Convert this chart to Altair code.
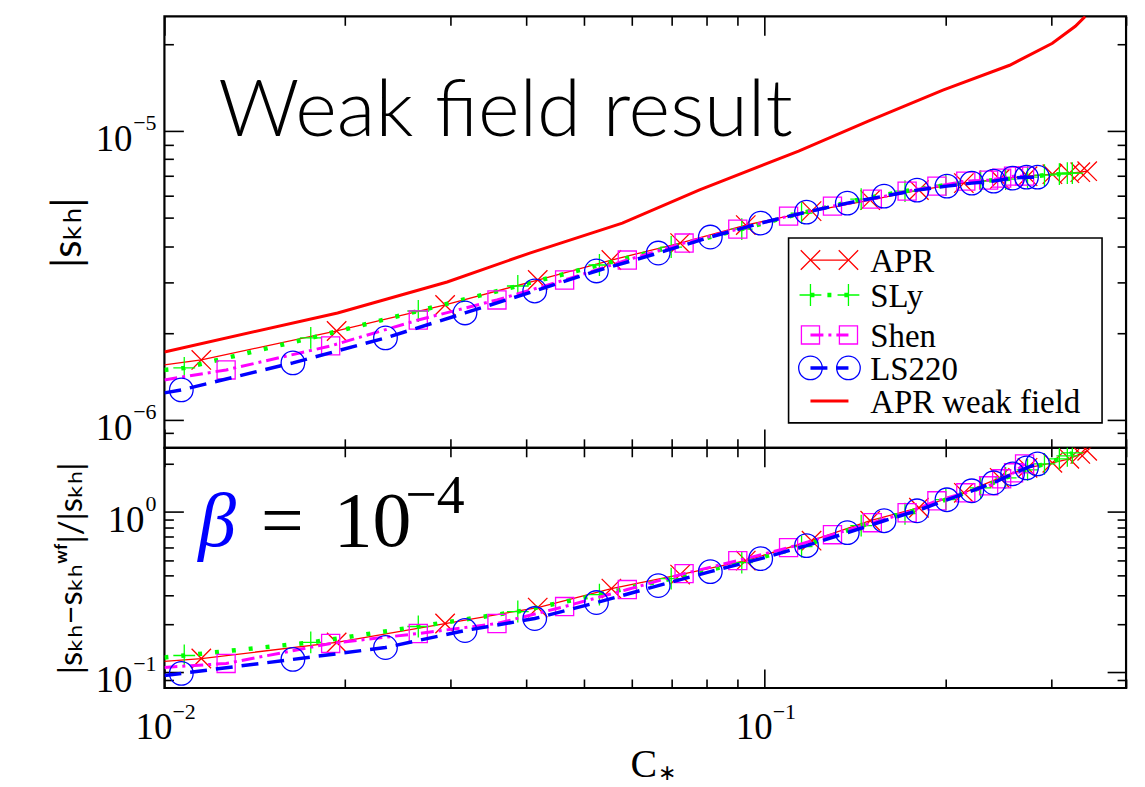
import altair as alt
import pandas as pd

# ---------------- values ----------------
# compactness C* of the plotted points, |s_kh| (top) and relative difference (bottom)
apr_c = [0.01152, 0.01936, 0.02935, 0.04187, 0.05554, 0.07230, 0.09300, 0.1197, 0.1499,
         0.1807, 0.2147, 0.2463, 0.2741, 0.3015, 0.3218, 0.3356, 0.3446]
apr_s = [1.613e-6, 2.032e-6, 2.500e-6, 3.051e-6, 3.578e-6, 4.097e-6, 4.728e-6, 5.285e-6, 5.770e-6,
         6.250e-6, 6.608e-6, 6.821e-6, 6.986e-6, 7.098e-6, 7.155e-6, 7.213e-6, 7.271e-6]
apr_r = [0.122, 0.1536, 0.2015, 0.2533, 0.3325, 0.4062, 0.4963, 0.6605, 0.8791,
         1.059, 1.312, 1.626, 1.876, 2.016, 2.134, 2.292, 2.393]

sly_c = [0.01079, 0.01753, 0.02648, 0.03879, 0.05305, 0.06986, 0.09159, 0.1152, 0.1448,
         0.1713, 0.2004, 0.2290, 0.2520, 0.2741, 0.2925, 0.3097, 0.3193, 0.3255]
sly_s = [1.513e-6, 1.922e-6, 2.383e-6, 2.909e-6, 3.439e-6, 3.969e-6, 4.580e-6, 5.203e-6, 5.816e-6,
         6.200e-6, 6.504e-6, 6.714e-6, 6.821e-6, 6.931e-6, 7.042e-6, 7.098e-6, 7.155e-6, 7.155e-6]
sly_r = [0.1274, 0.1536, 0.1931, 0.2393, 0.3052, 0.3836, 0.4823, 0.6063, 0.819,
         0.972, 1.19, 1.409, 1.626, 1.823, 1.987, 2.134, 2.228, 2.325]

shen_c = [0.01267, 0.01892, 0.02648, 0.03581, 0.04642, 0.05904, 0.07341, 0.09020, 0.1096,
          0.1297, 0.1511, 0.1727, 0.1936, 0.2163, 0.2361, 0.2482, 0.2598, 0.2710]
shen_s = [1.489e-6, 1.804e-6, 2.218e-6, 2.602e-6, 3.051e-6, 3.578e-6, 4.097e-6, 4.580e-6, 5.080e-6,
          5.500e-6, 5.816e-6, 6.200e-6, 6.452e-6, 6.714e-6, 6.767e-6, 6.876e-6, 6.986e-6, 6.986e-6]
shen_r = [0.1137, 0.1514, 0.1747, 0.2015, 0.2570, 0.3278, 0.4120, 0.4963, 0.5977,
          0.7197, 0.8545, 0.9858, 1.170, 1.312, 1.450, 1.603, 1.747, 1.987]

ls_c = [0.01067, 0.01637, 0.02335, 0.03168, 0.04139, 0.05245, 0.06648, 0.08118, 0.09849, 0.1174,
        0.1373, 0.1581, 0.1794, 0.2012, 0.2213, 0.2407, 0.2588, 0.2730, 0.2848]
ls_s = [1.270e-6, 1.575e-6, 1.922e-6, 2.346e-6, 2.795e-6, 3.279e-6, 3.783e-6, 4.298e-6, 4.804e-6, 5.245e-6,
        5.634e-6, 5.957e-6, 6.250e-6, 6.452e-6, 6.608e-6, 6.714e-6, 6.876e-6, 6.931e-6, 6.931e-6]
ls_r = [0.0986, 0.1205, 0.1429, 0.1823, 0.2164, 0.2721, 0.3471, 0.4239, 0.5105, 0.6151,
        0.7408, 0.8791, 1.014, 1.187, 1.350, 1.514, 1.722, 1.876, 1.987]

# where each curve enters the frame at the left edge (C* = 0.01)
edge_c = 0.01
edge_s = {"APR": 1.550e-6, "SLy": 1.489e-6, "Shen": 1.375e-6, "LS220": 1.240e-6}
edge_r = {"APR": 0.117, "SLy": 0.1239, "Shen": 0.1074, "LS220": 0.0958}

# APR weak-field curve
wf_c = [0.01, 0.01943, 0.02958, 0.04061, 0.05792, 0.07772, 0.1139, 0.1488, 0.1981,
        0.2559, 0.3015, 0.3292, 0.3420]
wf_s = [1.719e-6, 2.346e-6, 3.003e-6, 3.783e-6, 4.804e-6, 6.250e-6, 8.526e-6, 10.83e-6, 13.87e-6,
        16.92e-6, 20.16e-6, 23.09e-6, 24.99e-6]

series_names = ["APR", "SLy", "Shen", "LS220"]
series_c = {"APR": apr_c, "SLy": sly_c, "Shen": shen_c, "LS220": ls_c}
series_s = {"APR": apr_s, "SLy": sly_s, "Shen": shen_s, "LS220": ls_s}
series_r = {"APR": apr_r, "SLy": sly_r, "Shen": shen_r, "LS220": ls_r}

# axes
X_DOMAIN = [0.01, 0.4]
TOP_DOMAIN = [8e-7, 2.5e-5]
BOT_DOMAIN = [0.08, 2.5]
x_major = [0.01, 0.1]
x_minor = [0.02, 0.03, 0.04, 0.05, 0.06, 0.07, 0.08, 0.09, 0.2, 0.3, 0.4]
top_major = [1e-6, 1e-5]
top_minor = [9e-7, 2e-6, 3e-6, 4e-6, 5e-6, 6e-6, 7e-6, 8e-6, 9e-6, 2e-5]
bot_major = [0.1, 1.0]
bot_minor = [0.09, 0.2, 0.3, 0.4, 0.5, 0.6, 0.7, 0.8, 0.9, 2.0]

# tick labels: "10" with a raised exponent
x_label_vals = [0.01, 0.1]
x_label_exps = ["−2", "−1"]
top_label_vals = [1e-6, 1e-5]
top_label_exps = ["−6", "−5"]
bot_label_vals = [0.1, 1.0]
bot_label_exps = ["−1", "0"]
label_base = "10"

x_title_main, x_title_sub = "C", "∗"
top_title = "|sₖₕ|"
bot_title = "|sₖₕ−sₖₕʷᶠ|/|sₖₕ|"

# legend (inside the top panel, in data units)
legend_labels = ["APR", "SLy", "Shen", "LS220", "APR weak field"]
legend_rows_y = [3.578e-6, 2.707e-6, 1.968e-6, 1.513e-6, 1.163e-6]
legend_box = {"x": 0.1096, "x2": 0.3648, "y": 4.264e-6, "y2": 9.763e-7}
legend_x0, legend_x1, legend_text_x = 0.1192, 0.1379, 0.1499

# annotations
weak_text = "Weak field result"
weak_pos = (0.01229, 9.61e-6)
beta_pos = (0.01139, 0.615)
eq_pos = (0.01448, 0.615)
ten_pos = (0.01914, 0.615)
exp_pos = (0.02519, 0.986)

# ---------------- styling ----------------
W, H_TOP, H_BOT = 965, 433, 241
MAJ, MIN = 19, 9
SERIF = "Liberation Serif"
SANS = "Lato, DejaVu Sans"
XPATH = "M-1,-1L1,1M-1,1L1,-1"
PLUS = "M-1,0L1,0M0,-1L0,1"
STYLE = {
    "APR": dict(color="#ff0000", dash=None, width=1.3, shape=XPATH, size=380),
    "SLy": dict(color="#00ff00", dash=[4, 13], width=4.5, shape=PLUS, size=480),
    "Shen": dict(color="#ff00ff", dash=[13, 5, 3, 5], width=3, shape="square", size=330),
    "LS220": dict(color="#0000ff", dash=[17, 9], width=3.5, shape="circle", size=560),
}
WF_STYLE = dict(color="#ff0000", width=3)
LBL_BIG, LBL_SMALL = 37, 22


def xsc():
    return alt.Scale(type="log", domain=X_DOMAIN, nice=False)


def ysc(dom):
    return alt.Scale(type="log", domain=dom, nice=False)


def make_axis(orient, values, tick, title=None, extra=None):
    kw = dict(orient=orient, values=values, tickSize=tick, offset=-tick, domain=False,
              grid=False, ticks=True, tickColor="black", tickWidth=1.6, labels=False, title=title)
    if title:
        kw.update(titleFontWeight="normal", titleColor="black")
    if extra:
        kw.update(extra)
    return alt.Axis(**kw)


def line_kwargs(st, width):
    kw = dict(color=st["color"], strokeWidth=width, clip=True)
    if st.get("dash"):
        kw["strokeDash"] = st["dash"]
    return kw


def pos_enc(d, dom, xf="c", yf="v"):
    return dict(x=alt.X(f"{xf}:Q", scale=xsc(), axis=None),
                y=alt.Y(f"{yf}:Q", scale=ysc(dom), axis=None))


def ylabel_layers(vals, exps, dom):
    out = []
    for v, e in zip(vals, exps):
        d = pd.DataFrame({"c": [X_DOMAIN[0]], "v": [v]})
        expw = 12 * len(e)
        out.append(alt.Chart(d).mark_text(text=label_base, align="right", baseline="alphabetic",
                                          dx=-(8 + expw), dy=20, font=SERIF, fontSize=LBL_BIG,
                                          color="black").encode(**pos_enc(d, dom)))
        out.append(alt.Chart(d).mark_text(text=e, align="right", baseline="alphabetic",
                                          dx=-8, dy=-1, font=SERIF, fontSize=LBL_SMALL,
                                          color="black").encode(**pos_enc(d, dom)))
    return out


def xlabel_layers(vals, exps, dom):
    out = []
    for v, e in zip(vals, exps):
        d = pd.DataFrame({"c": [v], "v": [dom[0]]})
        out.append(alt.Chart(d).mark_text(text=label_base, align="right", baseline="alphabetic",
                                          dx=8, dy=51, font=SERIF, fontSize=LBL_BIG,
                                          color="black").encode(**pos_enc(d, dom)))
        out.append(alt.Chart(d).mark_text(text=e, align="left", baseline="alphabetic",
                                          dx=8, dy=31, font=SERIF, fontSize=LBL_SMALL,
                                          color="black").encode(**pos_enc(d, dom)))
    return out


def panel(values, edges, dom, height, axes, extra_before, extra_after):
    layers = list(extra_before)
    for i, name in enumerate(series_names):
        st = STYLE[name]
        xa, ya = axes[i]
        dline = pd.DataFrame({"c": [edge_c] + series_c[name], "v": [edges[name]] + values[name]})
        dpts = pd.DataFrame({"c": series_c[name], "v": values[name]})
        layers.append(
            alt.Chart(dline).mark_line(**line_kwargs(st, st["width"])).encode(
                x=alt.X("c:Q", scale=xsc(), axis=xa),
                y=alt.Y("v:Q", scale=ysc(dom), axis=ya),
            )
        )
        layers.append(
            alt.Chart(dpts).mark_point(shape=st["shape"], size=st["size"], color=st["color"],
                                       strokeWidth=1.3, filled=False, opacity=1, clip=True).encode(
                **pos_enc(dpts, dom))
        )
    layers += list(extra_after)
    return alt.layer(*layers).resolve_axis(x="independent", y="independent").properties(
        width=W, height=height)


def text_layer(pos, text, dom, **kw):
    d = pd.DataFrame({"c": [pos[0]], "v": [pos[1]], "t": [text]})
    return alt.Chart(d).mark_text(align="left", baseline="alphabetic", **kw).encode(
        text="t:N", **pos_enc(d, dom))


# ---------------- top panel ----------------
top_axes = [
    (make_axis("bottom", x_major, MAJ),
     make_axis("left", top_major, MAJ, title=top_title,
               extra=dict(titleFont=SANS, titleFontSize=40, titleX=-95))),
    (make_axis("bottom", x_minor, MIN), make_axis("left", top_minor, MIN)),
    (make_axis("top", x_major, MAJ), make_axis("right", top_major, MAJ)),
    (make_axis("top", x_minor, MIN), make_axis("right", top_minor, MIN)),
]

wf_df = pd.DataFrame({"c": wf_c, "v": wf_s})
wf_layer = alt.Chart(wf_df).mark_line(
    color=WF_STYLE["color"], strokeWidth=WF_STYLE["width"], clip=True).encode(
    **pos_enc(wf_df, TOP_DOMAIN))

leg = []
box_df = pd.DataFrame([legend_box])
leg.append(alt.Chart(box_df).mark_rect(fill="white", stroke="black", strokeWidth=1.6).encode(
    x=alt.X("x:Q", scale=xsc(), axis=None), x2="x2:Q",
    y=alt.Y("y:Q", scale=ysc(TOP_DOMAIN), axis=None), y2="y2:Q"))
for name, ry in zip(legend_labels, legend_rows_y):
    if name in STYLE:
        st = STYLE[name]
        width = st["width"]
    else:
        st = dict(color=WF_STYLE["color"], dash=None)
        width = WF_STYLE["width"]
    rdf = pd.DataFrame({"x": [legend_x0], "x2": [legend_x1], "y": [ry]})
    leg.append(alt.Chart(rdf).mark_rule(**line_kwargs(st, width)).encode(
        x=alt.X("x:Q", scale=xsc(), axis=None), x2="x2:Q",
        y=alt.Y("y:Q", scale=ysc(TOP_DOMAIN), axis=None)))
    if name in STYLE:
        pdf = pd.DataFrame({"x": [legend_x0, legend_x1], "y": [ry, ry]})
        leg.append(alt.Chart(pdf).mark_point(
            shape=st["shape"], size=st["size"], color=st["color"], strokeWidth=1.3,
            filled=False, opacity=1).encode(**pos_enc(pdf, TOP_DOMAIN, "x", "y")))
    tdf = pd.DataFrame({"x": [legend_text_x], "y": [ry], "t": [name]})
    leg.append(alt.Chart(tdf).mark_text(
        align="left", baseline="middle", font=SERIF, fontSize=33, color="black", dy=2).encode(
        text="t:N", **pos_enc(tdf, TOP_DOMAIN, "x", "y")))

weak_label = text_layer(weak_pos, weak_text, TOP_DOMAIN, font="Lato", fontSize=80,
                        fontWeight=300, color="black")

top = panel(series_s, edge_s, TOP_DOMAIN, H_TOP, top_axes,
            [weak_label], [wf_layer] + leg + ylabel_layers(top_label_vals, top_label_exps, TOP_DOMAIN))

# ---------------- bottom panel ----------------
bot_axes = [
    (make_axis("bottom", x_major, MAJ),
     make_axis("left", bot_major, MAJ, title=bot_title,
               extra=dict(titleFont=SANS, titleFontSize=33, titleX=-95))),
    (make_axis("bottom", x_minor, MIN), make_axis("left", bot_minor, MIN)),
    (make_axis("top", x_major, MAJ), make_axis("right", bot_major, MAJ)),
    (make_axis("top", x_minor, MIN), make_axis("right", bot_minor, MIN)),
]

beta_layers = [
    text_layer(beta_pos, "β", BOT_DOMAIN, font=SERIF, fontSize=76, fontStyle="italic",
               color="#0000ff"),
    text_layer(eq_pos, "=", BOT_DOMAIN, font=SERIF, fontSize=76, color="black"),
    text_layer(ten_pos, "10", BOT_DOMAIN, font=SERIF, fontSize=78, color="black"),
    text_layer(exp_pos, "−4", BOT_DOMAIN, font=SERIF, fontSize=56, color="black"),
]

# x-axis title "C*" centred under the panel
xt_df = pd.DataFrame({"c": [(X_DOMAIN[0] * X_DOMAIN[1]) ** 0.5], "v": [BOT_DOMAIN[0]]})
x_title_layers = [
    alt.Chart(xt_df).mark_text(text=x_title_main, align="right", baseline="alphabetic", dx=12,
                               dy=89, font=SERIF, fontSize=40, color="black").encode(
        **pos_enc(xt_df, BOT_DOMAIN)),
    alt.Chart(xt_df).mark_text(text=x_title_sub, align="left", baseline="middle", dx=13,
                               dy=85, font=SERIF, fontSize=22, color="black").encode(
        **pos_enc(xt_df, BOT_DOMAIN)),
]

bottom = panel(series_r, edge_r, BOT_DOMAIN, H_BOT, bot_axes, beta_layers,
               ylabel_layers(bot_label_vals, bot_label_exps, BOT_DOMAIN)
               + xlabel_layers(x_label_vals, x_label_exps, BOT_DOMAIN) + x_title_layers)

chart = alt.vconcat(top, bottom, spacing=0, bounds="flush").properties(
    padding={"left": 47, "top": 13, "right": 17, "bottom": 0},
    background="white",
).configure_view(stroke="black", strokeWidth=2.2)

chart.save("out.html", embed_options={"renderer": "svg", "actions": False})
